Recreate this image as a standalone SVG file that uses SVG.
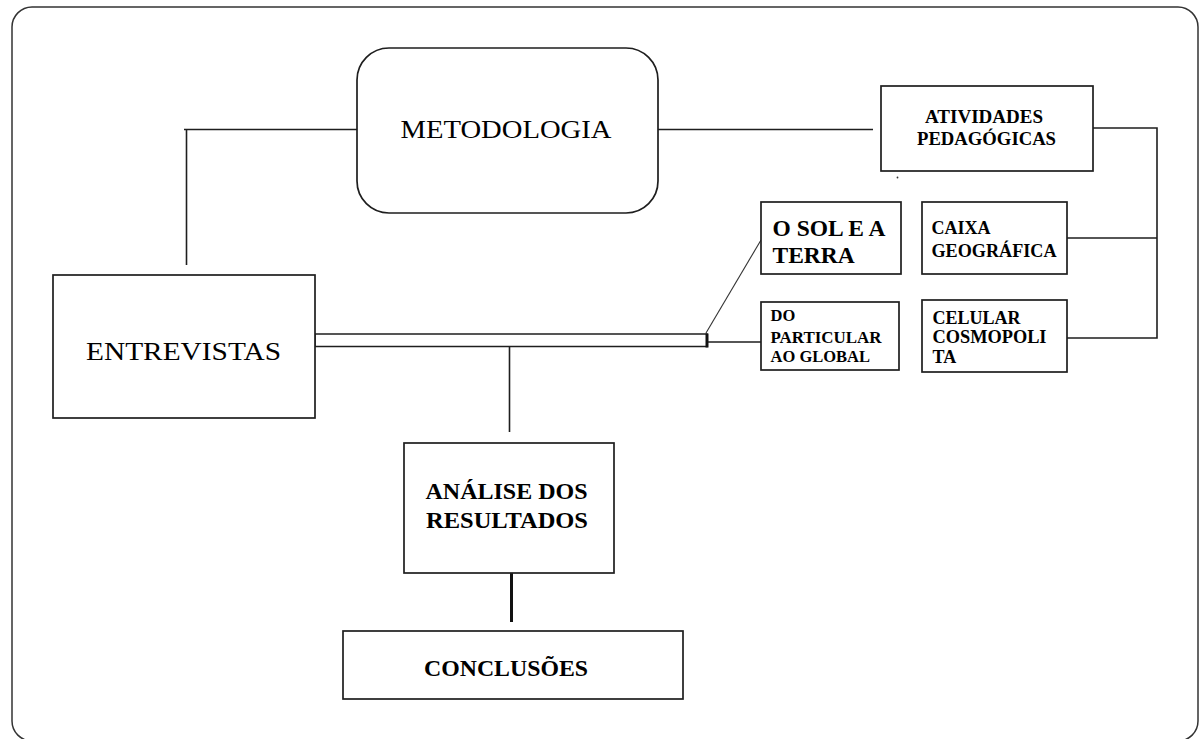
<svg xmlns="http://www.w3.org/2000/svg" width="1199" height="739" viewBox="0 0 1199 739">
<style>
.box{fill:#fff;stroke:#1e1e1e;stroke-width:1.7}
.ln{fill:none;stroke:#1e1e1e;stroke-width:1.6}
text{fill:#000;font-family:'Liberation Serif','Times New Roman',Times,Tinos,'Noto Serif','Nimbus Roman','Nimbus Roman No9 L','FreeSerif','DejaVu Serif',Georgia,serif}
.b{font-weight:bold}
</style>
<rect width="1199" height="739" fill="#fff"/>
<rect x="12" y="7" width="1186" height="734" rx="20" ry="20" fill="none" stroke="#333" stroke-width="1.5"/>
<g id="connectors">
<polyline class="ln" points="357,129.5 184,129.5"/>
<line class="ln" x1="186.5" y1="129" x2="186.5" y2="265"/>
<line class="ln" x1="658" y1="129.5" x2="873" y2="129.5"/>
<polyline class="ln" points="1093,128 1157,128 1157,338 1067,338"/>
<line class="ln" x1="1067" y1="238" x2="1157" y2="238"/>
<rect x="315" y="334" width="392" height="12.5" fill="#fff" stroke="#1e1e1e" stroke-width="1.5"/>
<line x1="707" y1="333.5" x2="707" y2="347.5" stroke="#111" stroke-width="3"/>
<line class="ln" x1="708" y1="342" x2="761" y2="342"/>
<line x1="706" y1="333" x2="761" y2="240" stroke="#333" stroke-width="1.1"/>
<line class="ln" x1="509.5" y1="347" x2="509.5" y2="432"/>
<line x1="511.5" y1="573" x2="511.5" y2="622" stroke="#111" stroke-width="3"/>
<circle cx="897.5" cy="177.5" r="0.9" fill="#333"/>
</g>
<g id="metodologia">
<rect class="box" x="357" y="48" width="301" height="165" rx="32" ry="32"/>
<text x="506" y="138" font-size="26" text-anchor="middle" textLength="211" lengthAdjust="spacingAndGlyphs">METODOLOGIA</text>
</g>
<g id="entrevistas">
<rect class="box" x="53" y="275" width="262" height="143"/>
<text x="183.5" y="359.5" font-size="25" text-anchor="middle" textLength="195" lengthAdjust="spacingAndGlyphs">ENTREVISTAS</text>
</g>
<g id="atividades">
<rect class="box" x="881" y="86" width="212" height="85"/>
<text class="b" x="984" y="123" font-size="19" text-anchor="middle" textLength="118" lengthAdjust="spacingAndGlyphs">ATIVIDADES</text>
<text class="b" x="986.5" y="145" font-size="19" text-anchor="middle" textLength="139" lengthAdjust="spacingAndGlyphs">PEDAGÓGICAS</text>
</g>
<g id="osol">
<rect class="box" x="761" y="202" width="140" height="72"/>
<text class="b" x="772.5" y="236" font-size="23.5">O SOL E A</text>
<text class="b" x="772.5" y="263" font-size="23.5">TERRA</text>
</g>
<g id="particular">
<rect class="box" x="761" y="302" width="138" height="68"/>
<text class="b" x="770.5" y="321" font-size="16.5">DO</text>
<text class="b" x="770.5" y="342.5" font-size="16.5" textLength="111" lengthAdjust="spacingAndGlyphs">PARTICULAR</text>
<text class="b" x="770.5" y="362" font-size="16.5">AO GLOBAL</text>
</g>
<g id="caixa">
<rect class="box" x="922" y="202" width="145" height="72"/>
<text class="b" x="931.5" y="233.5" font-size="18">CAIXA</text>
<text class="b" x="931.5" y="257" font-size="18" textLength="125" lengthAdjust="spacingAndGlyphs">GEOGRÁFICA</text>
</g>
<g id="celular">
<rect class="box" x="922" y="300" width="145" height="72"/>
<text class="b" x="932.5" y="323.5" font-size="18">CELULAR</text>
<text class="b" x="932.5" y="343" font-size="18" textLength="114" lengthAdjust="spacingAndGlyphs">COSMOPOLI</text>
<text class="b" x="932.5" y="363" font-size="18">TA</text>
</g>
<g id="analise">
<rect class="box" x="404" y="443" width="210" height="130"/>
<text class="b" x="506.5" y="498.5" font-size="24" text-anchor="middle" textLength="162" lengthAdjust="spacingAndGlyphs">ANÁLISE DOS</text>
<text class="b" x="507" y="527.5" font-size="24" text-anchor="middle" textLength="162" lengthAdjust="spacingAndGlyphs">RESULTADOS</text>
</g>
<g id="conclusoes">
<rect class="box" x="343" y="631" width="340" height="68"/>
<text class="b" x="506" y="676" font-size="24" text-anchor="middle" textLength="164" lengthAdjust="spacingAndGlyphs">CONCLUSÕES</text>
</g>
</svg>
